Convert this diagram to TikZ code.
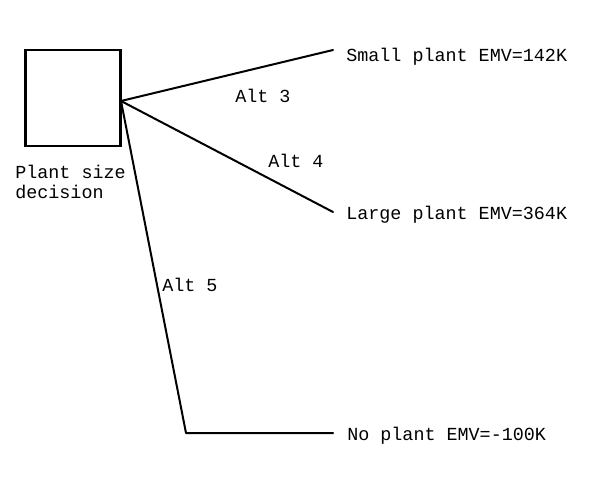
\documentclass[tikz,border=0pt]{standalone}
\usepackage{fontspec}
\setmonofont{Liberation Mono}
\begin{document}
\begin{tikzpicture}[x=0.75pt,y=-0.75pt,
  lbl/.style={font=\ttfamily\fontsize{13.8pt}{16pt}\selectfont,inner sep=0pt,anchor=base west},
  branch/.style={line width=1.5pt,line cap=round,line join=round},
  decbox/.style={draw,line width=1.6pt,minimum width=95*0.75pt,minimum height=96*0.75pt,inner sep=0pt}]
\useasboundingbox (0,0) rectangle (600,492);
\node[decbox] (box) at (73,98) {};
\coordinate (d) at (121,101);
\coordinate (s) at (333,50);
\coordinate (l) at (333,212);
\coordinate (k) at (186,433);
\coordinate (n) at (333,433);
\draw[branch] (d) -- (s);
\draw[branch] (d) -- (l);
\draw[branch] (d) -- (k) -- (n);
\node[lbl] (ts) at (346,62) {Small plant EMV=142K};
\node[lbl] (tl) at (346,219) {Large plant EMV=364K};
\node[lbl] (tn) at (347,440) {No plant EMV=-100K};
\node[lbl] (a3) at (235,103) {Alt 3};
\node[lbl] (a4) at (268,167) {Alt 4};
\node[lbl] (a5) at (162,291) {Alt 5};
\node[lbl] (p1) at (15,178) {Plant size};
\node[lbl] (p2) at (15,198) {decision};
\end{tikzpicture}
\end{document}
